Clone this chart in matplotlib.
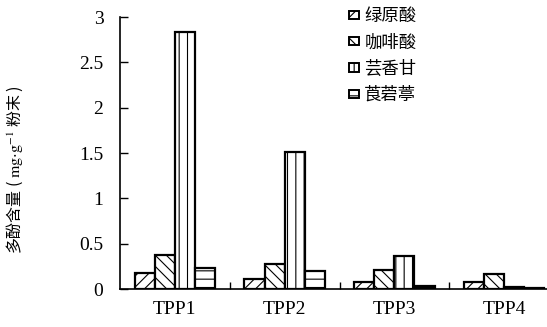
import numpy as np
import matplotlib.pyplot as plt

plt.rcParams['font.family'] = ['Noto Sans CJK SC', 'DejaVu Sans']
plt.rcParams['mathtext.fontset'] = 'stix'
plt.rcParams['hatch.linewidth'] = 0.8

samples = ['TPP1', 'TPP2', 'TPP3', 'TPP4']
compounds = ['绿原酸', '咖啡酸', '芸香甘', '莨菪葶']
lvyuansuan = [0.18, 0.107, 0.074, 0.074]
kafeisuan = [0.37, 0.28, 0.21, 0.17]
yunxianggan = [2.84, 1.51, 0.364, 0.02]
langdangting = [0.235, 0.20, 0.036, 0.01]
yticks = [0, 0.5, 1, 1.5, 2, 2.5, 3]
ytick_labels = ['0', '0.5', '1', '1.5', '2', '2.5', '3']

series = [lvyuansuan, kafeisuan, yunxianggan, langdangting]
hatches = ['///', '\\\\\\', '||', '--']

fig = plt.figure(figsize=(5.47, 3.27), dpi=100)
ax = fig.add_axes([120 / 547, 38 / 327, 439 / 547, 272 / 327])

x = np.arange(len(samples))
w = 0.183
for i, vals in enumerate(series):
    ax.bar(x + (i - 1.5) * w, vals, width=w, facecolor='white', edgecolor='black',
           linewidth=1.6, hatch=hatches[i], label=compounds[i])

ax.set_xlim(-0.5, 3.5)
ax.set_ylim(0, 3)
ax.set_yticks(yticks)
ax.set_yticklabels(ytick_labels, family='Liberation Serif', fontsize=14)
ax.set_xticks(x)
ax.set_xticklabels(samples, family='Liberation Serif', fontsize=14)
ax.set_xticks([0.5, 1.5, 2.5], minor=True)
ax.tick_params(axis='x', which='major', length=0, pad=9)
ax.tick_params(axis='x', which='minor', direction='in', length=5, width=1)
ax.tick_params(axis='y', direction='in', length=6, width=1, pad=12)

for s in ['top', 'right']:
    ax.spines[s].set_visible(False)
for s in ['left', 'bottom']:
    ax.spines[s].set_linewidth(1.2)

fig.text(0.027, 0.48, r'多酚含量 ( $\mathrm{mg{\cdot}g}^{-1}$ 粉末 )', rotation=90,
         ha='center', va='center', fontsize=11.5)

leg = ax.legend(loc='upper left', bbox_to_anchor=(340 / 547, 1.005), bbox_transform=fig.transFigure,
                frameon=False, fontsize=12.5, handlelength=0.6, handleheight=0.35,
                handletextpad=0.3, labelspacing=0.48, borderaxespad=0.1)
for h in leg.legend_handles:
    h.set_linewidth(1.4)

fig.savefig('out.png', dpi=100)
